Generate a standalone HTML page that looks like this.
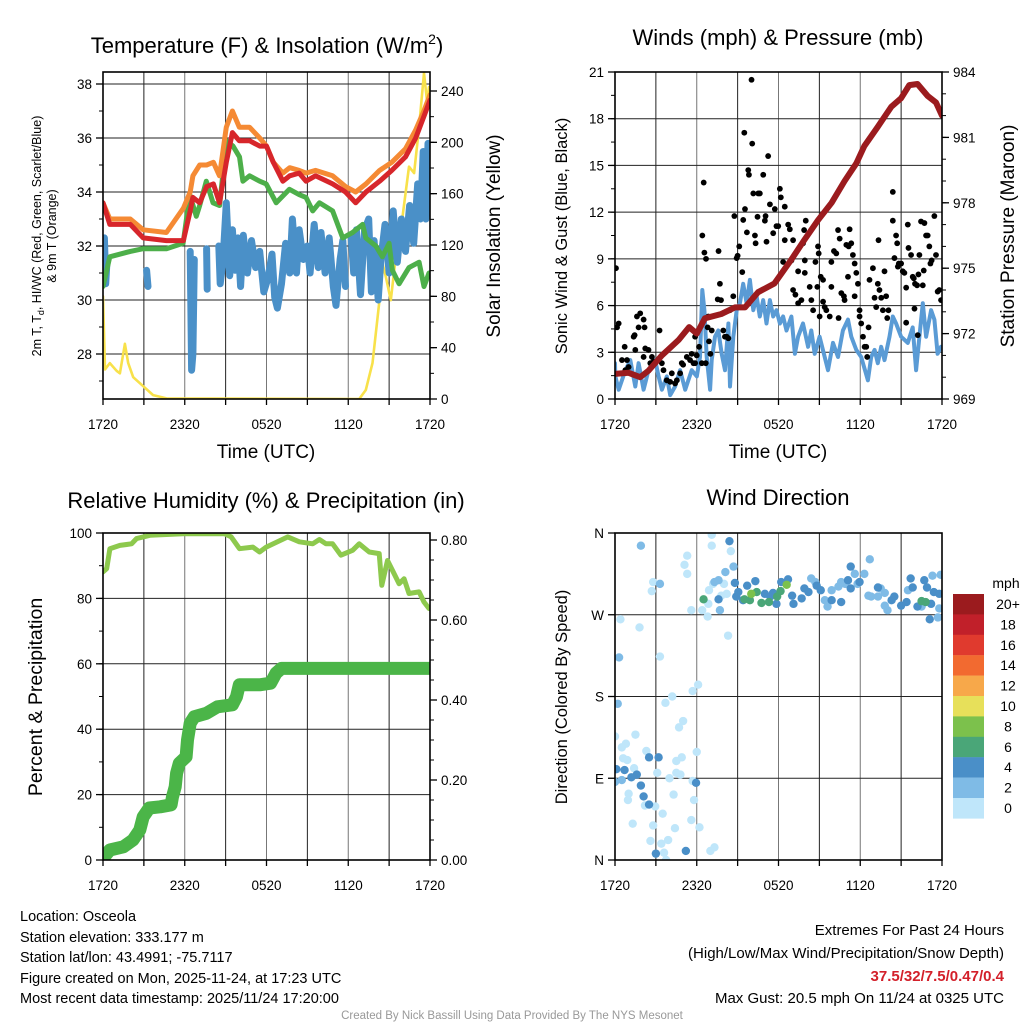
<!DOCTYPE html>
<html><head><meta charset="utf-8">
<style>
html,body{margin:0;padding:0;background:#fff;}
svg{display:block;font-family:"Liberation Sans",Arial,sans-serif;}
</style></head>
<body>
<svg id="chart" width="1024" height="1024" viewBox="0 0 1024 1024" xmlns="http://www.w3.org/2000/svg">
<defs>
<clipPath id="c1"><rect x="103" y="72" width="327" height="327"/></clipPath>
<clipPath id="c2"><rect x="615" y="72" width="327" height="327"/></clipPath>
<clipPath id="c3"><rect x="103" y="533" width="327" height="327"/></clipPath>
<clipPath id="c4"><rect x="615" y="533" width="327" height="327"/></clipPath>
</defs>
<g id="layer"></g>
<text x="267" y="53" font-size="22" text-anchor="middle">Temperature (F) &amp; Insolation (W/m<tspan font-size="14" dy="-9">2</tspan><tspan dy="9">)</tspan></text>
<text x="778" y="45" font-size="22" text-anchor="middle">Winds (mph) &amp; Pressure (mb)</text>
<text x="266" y="508" font-size="22" text-anchor="middle">Relative Humidity (%) &amp; Precipitation (in)</text>
<text x="778" y="505" font-size="22" text-anchor="middle">Wind Direction</text>
<text x="266" y="458" font-size="19" text-anchor="middle">Time (UTC)</text>
<text x="778" y="458" font-size="19" text-anchor="middle">Time (UTC)</text>
<text transform="translate(41,236) rotate(-90)" font-size="12.5" text-anchor="middle">2m T, T<tspan font-size="9" dy="3">d</tspan><tspan dy="-3">, HI/WC (Red, Green, Scarlet/Blue)</tspan></text>
<text transform="translate(56,236) rotate(-90)" font-size="12.5" text-anchor="middle">&amp; 9m T (Orange)</text>
<text transform="translate(500,236) rotate(-90)" font-size="19" text-anchor="middle">Solar Insolation (Yellow)</text>
<text transform="translate(567,236) rotate(-90)" font-size="16.5" text-anchor="middle">Sonic Wind &amp; Gust (Blue, Black)</text>
<text transform="translate(1014,236) rotate(-90)" font-size="19" text-anchor="middle">Station Pressure (Maroon)</text>
<text transform="translate(42,697) rotate(-90)" font-size="19.5" text-anchor="middle">Percent &amp; Precipitation</text>
<text transform="translate(567,697) rotate(-90)" font-size="16.5" text-anchor="middle">Direction (Colored By Speed)</text>
<g font-size="14.5">
<text x="20" y="921">Location: Osceola</text>
<text x="20" y="942">Station elevation: 333.177 m</text>
<text x="20" y="962">Station lat/lon: 43.4991; -75.7117</text>
<text x="20" y="983">Figure created on Mon, 2025-11-24, at 17:23 UTC</text>
<text x="20" y="1003">Most recent data timestamp: 2025/11/24 17:20:00</text>
</g>
<g font-size="15" text-anchor="end">
<text x="1004" y="935">Extremes For Past 24 Hours</text>
<text x="1004" y="958">(High/Low/Max Wind/Precipitation/Snow Depth)</text>
<text x="1004" y="981" fill="#d3202a" font-weight="bold">37.5/32/7.5/0.47/0.4</text>
<text x="1004" y="1003">Max Gust: 20.5 mph On 11/24 at 0325 UTC</text>
</g>
<text x="512" y="1019" font-size="11.5" fill="#999" text-anchor="middle">Created By Nick Bassill Using Data Provided By The NYS Mesonet</text>
</svg>
<script>
const xTickLabels = ["1720","2320","0520","1120","1720"];
const redT = [0,0.5,2,2.95,4.65,5.9,6.4,6.6,7.1,7.6,8.1,8.55,9.05,9.5,10,10.75,11.5,12,12.5,13.2,13.7,14.4,14.9,15.6,16.85,17.8,18.55,19.3,20.3,21.2,22.2,22.95,23.55,24];
const redTemp = [33.6,32.8,32.8,32.3,32.2,32.2,33.3,33.8,33.6,34.2,34.3,33.6,35.1,36.2,35.9,35.9,35.7,35.7,35.1,34.4,34.6,34.7,34.4,34.6,34.3,34.0,33.6,34.0,34.4,34.8,35.3,36.0,36.8,37.4];
const orangeTemp = [33.6,33.0,33.0,32.6,32.5,33.4,34.0,34.6,35.0,35.0,35.1,34.6,36.4,37.0,36.4,36.4,36.0,35.7,35.1,34.7,34.9,34.8,34.7,34.8,34.6,34.2,34.0,34.3,34.8,35.1,35.6,36.3,37.0,37.6];
const greenT = [0,0.5,2,2.95,4.66,5.88,6.37,6.85,7.1,7.58,8.07,8.56,9.05,9.54,10.02,10.27,10.76,11.5,11.98,12.71,13.68,14.41,14.9,15.39,15.88,16.85,17.59,18.32,19.05,19.29,20.02,20.51,21.0,21.24,21.73,22.46,23.2,23.56,23.93];
const greenTemp = [30.5,31.6,31.8,31.9,31.9,32.1,33.9,33.1,33.5,34.4,33.6,33.5,35.9,35.7,35.3,34.4,34.6,34.4,34.3,33.6,34.1,33.9,33.8,33.3,33.6,33.3,32.3,32.5,32.8,32.3,32.0,31.6,32.1,31.1,30.6,31.2,31.4,30.5,31.0];
const blueT = [0,0.1,0.2,0.3,null,3.2,3.3,null,6.4,6.5,6.6,6.7,null,7.6,7.65,null,8.5,8.6,8.8,9.05,9.3,9.5,9.7,9.9,10.1,10.3,10.6,10.9,11.2,11.5,11.8,12.1,12.4,12.6,12.8,13.1,13.4,13.7,13.9,14.2,14.4,14.7,15.0,15.2,15.5,15.8,16.0,16.3,16.6,16.9,17.1,17.4,17.6,17.8,null,18.2,18.4,18.6,18.9,19.2,19.5,19.7,19.9,20.2,20.4,20.7,21.0,21.3,21.6,21.9,22.2,22.5,22.8,23.1,23.3,23.5,23.7,23.85,24];
const blueTemp = [31.2,32.3,30.6,31.5,null,31.1,30.5,null,31.8,27.4,28.0,31.5,null,31.9,30.4,null,32.0,30.6,31.4,33.6,30.9,32.6,31.1,32.3,30.5,32.4,31.0,32.2,31.2,31.8,30.3,30.8,31.7,30.1,29.7,30.6,32.1,31.0,33.0,31.0,32.6,31.5,32.0,31.0,32.8,31.2,32.5,31.0,32.3,30.5,29.8,31.5,32.2,30.5,null,32.4,31.0,32.6,30.2,32.6,33.0,30.3,32.2,30.0,31.5,32.8,31.0,33.3,31.4,33.0,31.8,33.5,32.1,34.3,33.0,35.5,33.0,35.8,34.0];
const solarT = [0,0.15,0.5,1.0,1.24,1.61,1.85,2.22,2.95,3.68,4.66,18.8,19.29,19.78,20.27,20.51,20.76,21.12,21.49,21.98,22.46,22.83,23.2,23.56,23.8,23.93];
const solarWm2 = [80,23,28,22,20,43,28,17,10,3,0.5,0,7,28,75,106,95,77,111,142,181,176,212,254,230,243];
const windT = [0,0.02,0.27,0.76,1.12,1.49,1.73,2.1,2.46,2.95,3.2,3.44,3.8,4.05,4.41,4.78,5.15,5.63,6.0,6.24,6.41,6.56,6.73,6.98,7.1,7.34,7.58,7.83,8.07,8.32,8.44,8.68,8.93,9.17,9.41,9.66,9.9,10.15,10.39,10.63,10.88,11.12,11.37,11.61,11.85,12.1,12.34,12.59,12.95,13.2,13.44,13.8,14.17,14.41,14.66,15.02,15.39,15.63,16.0,16.37,16.73,17.1,17.34,17.71,18.07,18.56,18.8,19.05,19.29,19.54,19.78,20.15,20.39,20.63,21.0,21.49,21.85,22.1,22.34,22.59,22.83,23.2,23.44,23.68,23.93];
const windMph = [2.3,1.45,0.6,1.85,2.5,0.8,2.3,0.6,1.85,2.5,1.45,0.6,1.45,0.25,0.8,1.85,0.6,1.85,1.45,2.7,7.0,5.7,2.7,0.6,2.5,4.0,4.4,2.9,1.85,4.85,0.8,4.0,5.7,6.15,7.4,6.15,7.65,5.7,6.6,5.3,6.35,4.85,6.35,5.3,5.7,4.85,5.3,4.4,5.3,2.9,4.0,4.85,3.35,4.4,2.9,4.0,2.7,1.85,3.6,2.7,4.4,5.1,4.0,3.15,2.7,1.2,2.7,3.15,2.3,3.35,2.5,4.0,5.3,4.85,4.0,3.6,4.6,1.85,4.0,6.15,4.0,5.7,5.1,2.9,3.35];
const gustT = [0.07,0.15,0.27,0.71,0.51,0.88,1.0,0.76,1.37,1.44,1.61,1.85,2.1,1.73,2.17,1.49,2.22,2.1,2.46,2.71,2.59,2.83,3.27,3.44,3.56,3.8,4.05,4.17,4.41,4.54,4.78,4.9,5.0,5.27,5.51,5.63,5.76,5.88,6.0,5.88,6.17,6.37,6.41,6.51,6.56,6.68,6.85,6.8,6.9,7.0,6.66,7.1,7.6,7.7,7.54,7.78,7.95,8.07,8.2,8.32,8.68,8.44,8.76,8.93,9.0,9.12,9.34,9.41,9.54,9.49,9.68,9.78,9.83,10.02,10.07,10.15,10.27,10.32,10.51,10.63,10.46,10.88,11.0,11.05,11.12,11.24,11.37,11.61,11.73,11.85,11.98,12.1,12.17,12.34,12.46,12.46,12.71,12.83,13.07,12.95,13.07,13.24,13.44,13.44,13.68,13.8,13.88,14.0,13.93,13.93,14.29,14.41,14.54,14.71,14.9,14.95,14.85,15.1,15.27,15.02,15.27,15.39,15.51,15.76,15.88,15.88,16.07,16.24,16.37,16.49,16.61,16.8,16.85,17.1,17.15,17.22,16.98,16.41,17.34,17.46,17.59,17.71,17.83,17.59,17.95,17.95,18.07,18.2,18.32,18.44,18.51,18.61,18.68,18.93,19.05,19.17,19.29,19.41,19.34,19.54,19.66,19.78,19.9,19.98,20.07,20.39,20.39,20.51,20.63,20.71,20.76,20.83,21.0,21.12,21.24,21.37,21.49,21.54,21.73,21.85,21.98,21.93,22.02,22.17,22.27,22.34,22.46,22.59,22.71,22.83,22.66,22.95,23.07,23.15,23.24,23.44,23.56,23.68,23.8,23.93,22.22,21.37];
const gustMph = [8.4,4.6,4.85,3.35,2.5,2.5,2.05,1.85,4.0,4.1,5.3,5.5,5.1,4.6,4.6,3.15,3.25,2.7,3.15,2.7,2.3,2.4,4.4,2.3,1.85,1.2,1.1,1.65,1.0,1.2,1.65,2.3,2.2,2.7,2.5,2.9,2.3,2.3,2.8,4.0,3.35,2.3,10.5,13.9,9.4,9.0,5.3,4.6,3.7,2.9,2.3,4.4,9.5,7.4,6.4,6.35,4.4,4.0,4.0,3.9,6.6,5.7,11.75,9.05,9.2,9.8,8.15,11.5,12.2,17.1,10.7,14.7,14.4,20.5,16.4,13.2,10.5,10.0,13.2,13.2,11.7,14.4,11.45,11.75,10.1,15.6,12.5,10.65,12.2,11.1,11.1,13.5,12.95,8.8,10.2,12.35,11.2,10.9,10.2,8.9,7.0,6.7,8.2,6.15,6.35,10.0,10.85,11.45,8.1,8.9,7.2,6.35,5.7,8.8,9.8,9.35,7.2,7.85,7.65,5.3,6.25,5.9,5.7,5.3,7.2,8.8,9.5,9.35,10.85,10.3,6.8,6.6,6.35,7.85,9.8,10.9,9.9,5.2,10.0,9.25,8.7,8.1,7.4,6.6,5.7,5.3,4.85,4.0,3.35,3.35,2.7,4.6,7.65,8.4,6.5,5.9,7.4,7.0,10.2,6.5,5.7,8.2,6.6,5.2,5.7,13.3,11.45,9.05,10.5,10.0,8.5,8.7,8.7,8.2,8.1,7.15,11.2,9.7,9.25,7.85,5.8,7.75,7.4,7.3,8.0,9.25,11.4,7.3,11.3,10.5,8.25,10.5,9.8,8.7,8.9,11.75,9.25,6.9,7.0,6.35,4.1,4.9];
const presT = [0,1.0,1.85,2.46,3.44,4.66,5.44,6.0,6.6,7.8,8.8,9.54,10.5,11.7,12.95,13.9,14.9,15.9,16.85,17.7,18.3,19.3,20.27,21.0,21.6,22.2,22.95,23.56,24];
const presMb = [970.15,970.2,970.0,970.3,971.0,971.7,972.3,972.0,972.7,972.9,973.2,973.2,973.9,974.3,975.4,976.3,977.2,978.0,979.0,979.8,980.6,981.5,982.4,982.8,983.4,983.45,982.9,982.6,982.0];
const rhT = [0,0.27,0.51,1.24,2.1,2.46,3.44,5.88,8.93,9.41,10.02,11.0,11.49,11.98,13.56,14.41,15.39,15.88,16.37,16.85,17.46,18.32,18.8,19.54,20.27,20.46,20.88,21.24,21.73,22.1,22.46,23.2,23.56,23.93];
const rhPct = [88.1,89.1,95.2,96.2,96.7,98.3,99.3,99.8,99.8,98.8,95.2,95.7,94.2,95.7,98.8,97.3,96.7,98.0,96.7,96.7,93.2,94.7,96.7,94.2,93.7,84.0,91.6,88.6,84.5,86.0,81.5,82.0,78.9,76.9];
const precipT = [0,0.5,1.5,2.2,2.7,2.95,3.4,4.2,5.0,5.1,5.3,5.4,5.6,6.1,6.2,6.4,6.7,7.6,8.4,9.5,9.8,10.0,11.5,12.3,12.7,13.1,24];
const precipIn = [0.004,0.025,0.033,0.05,0.075,0.108,0.13,0.133,0.138,0.158,0.183,0.217,0.242,0.258,0.3,0.342,0.358,0.367,0.383,0.388,0.408,0.438,0.438,0.442,0.467,0.479,0.479];
const dirLightT = [7.1,7.1,8.5,5.3,5.1,5.3,2.8,2.7,5.6,6.4,6.8,8.3,3.3,0.4,1.8,6.1,5.7,4.2,3.7,5.0,4.7,1.5,0.8,0.5,0,2.3,0.6,0.9,1.4,4.5,4.9,6.0,3.1,4.5,4.8,4.0,5.7,1.0,0.95,2.2,2.95,5.8,4.3,3.5,1.3,2.8,5.6,6.2,4.4,2.6,3.4,3.9,3.6,3.75,7.3,7.0,6.85,6.9,7.2,7.8,8.2,8.0];
const dirLightDeg = [358,346,340,335,325,315,306,296,275,275,268,247,224,265,256,193,186,180,173,153,146,138,128,124,136,120,112,110,101,109,113,119,96,96,94,90,87,73,66,60,59,66,72,51,40,38,44,36,35,21,18,22,8,0,14,10,282,297,304,291,293,304];
const dirMidT = [1.9,3.3,0.3,0.2,18.7,23.3,23.9,7.3,7.6,8.1,7.7,8.7,15.4,15.6,16.9,16.6,17.6,18.3,17.8,18.8,19.3,20.0,19.8,18.6,21.5,14.4,14.7,16.4,15.9,19.5,19.8,22.5,23.8,23.7,0,0.5];
const dirMidDeg = [346,304,223,172,331,313,314,306,308,317,275,323,286,279,304,306,315,315,304,290,290,275,280,291,297,310,306,301,297,299,294,279,277,267,86,88];
const dirDarkT = [8.4,8.8,10.3,9.7,9.05,8.9,9.4,11.0,11.4,11.6,11.85,12.2,12.7,13.0,13.1,13.7,13.9,14.2,14.8,15.1,15.9,16.6,17.1,17.3,17.3,17.95,19.3,20.5,20.3,21.0,21.4,21.7,21.85,22.7,22.9,23.4,23.8,23.1,22.2,23.2,7.6,0.1,0.7,1.2,1.6,1.9,2.1,2.5,3.2,2.5,3.0,5.2,5.95];
const dirDarkDeg = [351,305,307,302,295,290,286,293,290,294,282,306,309,291,282,288,299,295,302,297,286,284,308,323,299,306,300,290,286,280,284,310,300,308,300,295,293,265,279,282,287,100,99,91,94,82,70,113,113,61,7,10,85];
const dirGreenT = [6.5,9.5,9.9,10.4,10.75,11.3,11.9,12.15,22.5,22.8];
const dirGreenDeg = [287,287,286,295,283,284,290,296,285,284];
const dirLimeT = [10.0,12.6];
const dirLimeDeg = [293,303];
const speedLabels = ["20+","18","16","14","12","10","8","6","4","2","0"];
const speedColors = ["#9b1b1e","#c1202a","#e03a2e","#f26a30","#f7a84a","#e7e05a","#7cc14c","#4aa678","#4a8fc8","#7fbbe6","#bfe6fa"];

const NS = "http://www.w3.org/2000/svg";
const layer = document.getElementById("layer");
function mk(tag, attrs, parent) {
  const e = document.createElementNS(NS, tag);
  for (const k in attrs) e.setAttribute(k, attrs[k]);
  (parent || layer).appendChild(e);
  return e;
}
const PW = 327;
function xScale(x0) { return t => x0 + t * PW / 24; }
function linScale(v0, y0, v1, y1) { return v => y0 + (v - v0) * (y1 - y0) / (v1 - v0); }
function pathFrom(ts, vs, xs, ys) {
  let d = "", pen = false;
  for (let i = 0; i < ts.length; i++) {
    if (ts[i] === null || vs[i] === null) { pen = false; continue; }
    d += (pen ? "L" : "M") + xs(ts[i]).toFixed(1) + "," + ys(vs[i]).toFixed(1);
    pen = true;
  }
  return d;
}
function grid(x0, y0, yGridVals, ys, name) {
  const g = mk("g", {stroke: "#222", "stroke-width": 1});
  
  
  for (let h = 3; h < 24; h += 3) {
    const x = xScale(x0)(h);
    mk("line", {x1: x, x2: x, y1: y0, y2: y0 + PW, stroke: (h % 6 === 0) ? "#777" : "#222"}, g);
  }
  yGridVals.forEach(v => { const y = ys(v); mk("line", {x1: x0, x2: x0 + PW, y1: y, y2: y}, g); });
}
function xAxis(x0, y0, name) {
  const xs = xScale(x0);
  const g = mk("g", {});
  
  
  for (let h = 0; h <= 24; h += 3) mk("line", {x1: xs(h), x2: xs(h), y1: y0 + PW, y2: y0 + PW + 6, stroke: "#000", "stroke-width": 1.3}, g);
  xTickLabels.forEach((lab, i) => {
    const t = mk("text", {x: xs(i * 6), y: y0 + PW + 30, "font-size": 13.5, "text-anchor": "middle"}, g);
    t.textContent = lab;
  });
}
function yAxis(x, ys, majors, minors, labels, side, name, y0) {
  const g = mk("g", {});
  
  
  const dir = side === "left" ? -1 : 1;
  minors.forEach(v => { const y = ys(v); if (y >= y0 - 0.5 && y <= y0 + PW + 0.5) mk("line", {x1: x, x2: x + dir * 4, y1: y, y2: y, stroke: "#000", "stroke-width": 1}, g); });
  majors.forEach((v, i) => {
    const y = ys(v);
    mk("line", {x1: x, x2: x + dir * 7, y1: y, y2: y, stroke: "#000", "stroke-width": 1.3}, g);
    const t = mk("text", {x: x + dir * 11, y: y + 5, "font-size": 13.5, "text-anchor": side === "left" ? "end" : "start"}, g);
    t.textContent = labels[i];
  });
}
function box(x0, y0, name) {
  const r = mk("rect", {x: x0, y: y0, width: PW, height: PW, fill: "none", stroke: "#000", "stroke-width": 1.6});
  
  
}
function seriesLine(ts, vs, xs, ys, color, w, clip, name) {
  const p = mk("path", {d: pathFrom(ts, vs, xs, ys), fill: "none", stroke: color, "stroke-width": w, "stroke-linejoin": "round", "stroke-linecap": "round", "clip-path": "url(#" + clip + ")"});
  
  
}
function rng(a, b, s) { const r = []; for (let v = a; v <= b + 1e-9; v += s) r.push(+v.toFixed(4)); return r; }

(function () {
  const x0 = 103, y0 = 72, xs = xScale(x0);
  const yT = linScale(38, 84, 28, 354);
  const yS = linScale(0, 399, 240, 91);
  grid(x0, y0, [28, 30, 32, 34, 36, 38], yT, "temperature");
  seriesLine(solarT, solarWm2, xs, yS, "#f8e14a", 2.6, "c1", "solar-insolation-line");
  seriesLine(blueT, blueTemp, xs, yT, "#4a90c8", 7, "c1", "dewpoint-line");
  seriesLine(greenT, greenTemp, xs, yT, "#4daf4a", 5, "c1", "wind-chill-line");
  seriesLine(redT, orangeTemp, xs, yT, "#f58a34", 5, "c1", "temp-9m-line");
  seriesLine(redT, redTemp, xs, yT, "#d7262b", 5, "c1", "temp-2m-line");
  box(x0, y0, "temperature");
  xAxis(x0, y0, "temperature");
  yAxis(x0, yT, [28, 30, 32, 34, 36, 38], rng(27, 38, 1), ["28", "30", "32", "34", "36", "38"], "left", "temperature-y-axis", y0);
  yAxis(x0 + PW, yS, rng(0, 240, 40), rng(0, 250, 20), ["0", "40", "80", "120", "160", "200", "240"], "right", "insolation-y-axis", y0);
})();

(function () {
  const x0 = 615, y0 = 72, xs = xScale(x0);
  const yW = linScale(0, 399, 21, 72);
  const yP = linScale(969, 399, 984, 72);
  grid(x0, y0, [3, 6, 9, 12, 15, 18], yW, "wind");
  seriesLine(windT, windMph, xs, yW, "#5a9bd5", 4, "c2", "sustained-wind-line");
  const g = mk("g", {"clip-path": "url(#c2)"});
  
  
  gustT.forEach((t, i) => {
    const c = mk("circle", {cx: xs(t), cy: yW(gustMph[i]), r: 2.9, fill: "#000"}, g);
    
    
  });
  seriesLine(presT, presMb, xs, yP, "#9b1b1e", 6, "c2", "pressure-line");
  box(x0, y0, "wind");
  xAxis(x0, y0, "wind");
  yAxis(x0, yW, rng(0, 21, 3), rng(0, 21, 1.5), ["0", "3", "6", "9", "12", "15", "18", "21"], "left", "wind-y-axis", y0);
  yAxis(x0 + PW, yP, rng(969, 984, 3), rng(969, 984, 1), ["969", "972", "975", "978", "981", "984"], "right", "pressure-y-axis", y0);
})();

(function () {
  const x0 = 103, y0 = 533, xs = xScale(x0);
  const yR = linScale(0, 860, 100, 533);
  const yPr = linScale(0, 860, 0.8, 540);
  grid(x0, y0, [20, 40, 60, 80], yR, "humidity");
  seriesLine(precipT, precipIn, xs, yPr, "#4bb548", 13, "c3", "precipitation-line");
  seriesLine(rhT, rhPct, xs, yR, "#8dc94d", 5, "c3", "humidity-line");
  box(x0, y0, "humidity");
  xAxis(x0, y0, "humidity");
  yAxis(x0, yR, rng(0, 100, 20), rng(0, 100, 10), ["0", "20", "40", "60", "80", "100"], "left", "humidity-y-axis", y0);
  yAxis(x0 + PW, yPr, rng(0, 0.8, 0.2), rng(0, 0.8, 0.05), ["0.00", "0.20", "0.40", "0.60", "0.80"], "right", "precip-y-axis", y0);
})();

(function () {
  const x0 = 615, y0 = 533, xs = xScale(x0);
  const yD = linScale(0, 860, 360, 533);
  grid(x0, y0, [90, 180, 270], yD, "direction");
  const g = mk("g", {"clip-path": "url(#c4)"});
  
  
  const groups = [[dirLightT, dirLightDeg, speedColors[10]], [dirMidT, dirMidDeg, speedColors[9]], [dirDarkT, dirDarkDeg, speedColors[8]], [dirGreenT, dirGreenDeg, speedColors[7]], [dirLimeT, dirLimeDeg, speedColors[6]]];
  groups.forEach(gr => {
    gr[0].forEach((t, i) => {
      const c = mk("circle", {cx: xs(t), cy: yD(gr[1][i]), r: 4.2, fill: gr[2]}, g);
      
      
    });
  });
  box(x0, y0, "direction");
  xAxis(x0, y0, "direction");
  yAxis(x0, yD, [0, 90, 180, 270, 360], [], ["N", "E", "S", "W", "N"], "left", "direction-y-axis", y0);
  const cb = mk("g", {});
  
  
  const ct = mk("text", {x: 1006, y: 588, "font-size": 14, "text-anchor": "middle"}, cb);
  ct.textContent = "mph";
  speedLabels.forEach((lab, i) => {
    const y = 594 + i * 20.4;
    const r = mk("rect", {x: 953, y: y, width: 31, height: 20.6, fill: speedColors[i]}, cb);
    
    
    const t = mk("text", {x: 1008, y: y + 15, "font-size": 14, "text-anchor": "middle"}, cb);
    t.textContent = lab;
  });
})();
</script>
</body></html>
